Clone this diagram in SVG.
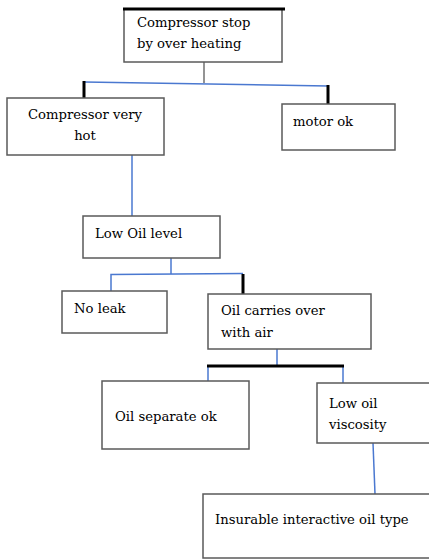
<svg xmlns="http://www.w3.org/2000/svg" width="429" height="559" viewBox="0 0 429 559">
<style>
rect{fill:#fff;stroke:#5a5a5a;stroke-width:1.5}
text{font-family:'DejaVu Serif','Liberation Serif',serif;font-size:13.2px;fill:#000}
.b{stroke:#4a78d0;stroke-width:1.5;fill:none}
.k{stroke:#000;stroke-width:3;fill:none}
.g{stroke:#707070;stroke-width:1.5;fill:none}
</style>
<rect x="0" y="0" width="429" height="559" style="fill:#fff;stroke:none"/>
<g id="connectors">
<line class="g" x1="204" y1="62" x2="204" y2="83"/>
<line class="b" x1="84" y1="82" x2="328" y2="86"/>
<line class="k" x1="84" y1="81" x2="84" y2="98"/>
<line class="k" x1="328" y1="85" x2="328" y2="104"/>
<line class="b" x1="132" y1="155" x2="132" y2="217"/>
<line class="b" x1="171" y1="258" x2="171" y2="274"/>
<polyline class="b" points="111,293 111,274.5 243,273.5"/>
<line class="k" x1="243" y1="274" x2="243" y2="295"/>
<line class="b" x1="277" y1="349" x2="277" y2="366"/>
<line class="b" x1="208" y1="366" x2="208" y2="382"/>
<line class="b" x1="343" y1="366" x2="343" y2="386"/>
<line class="k" x1="207" y1="366" x2="344" y2="366"/>
<line class="b" x1="373" y1="443" x2="375" y2="494"/>
</g>
<g id="n1">
<rect x="124" y="9" width="158" height="53"/>
<line class="k" x1="123" y1="9" x2="285" y2="9"/>
<text x="137" y="27">Compressor stop</text>
<text x="137" y="48">by over heating</text>
</g>
<g id="n2">
<rect x="7" y="98" width="157" height="57"/>
<text x="85" y="119" text-anchor="middle">Compressor very</text>
<text x="85" y="140" text-anchor="middle">hot</text>
</g>
<g id="n3">
<rect x="282" y="104" width="113" height="46"/>
<text x="293" y="126">motor ok</text>
</g>
<g id="n4">
<rect x="83" y="216" width="137" height="42"/>
<text x="95" y="238">Low Oil level</text>
</g>
<g id="n5">
<rect x="62" y="291" width="105" height="42"/>
<text x="74" y="313">No leak</text>
</g>
<g id="n6">
<rect x="208" y="294" width="163" height="55"/>
<text x="221" y="315">Oil carries over</text>
<text x="221" y="337">with air</text>
</g>
<g id="n7">
<rect x="102" y="381" width="147" height="68"/>
<text x="115" y="421">Oil separate ok</text>
</g>
<g id="n8">
<rect x="317" y="383" width="116" height="60"/>
<text x="329" y="408">Low oil</text>
<text x="329" y="429">viscosity</text>
</g>
<g id="n9">
<rect x="203" y="494" width="230" height="64"/>
<text x="215" y="524">Insurable interactive oil type</text>
</g>
</svg>
